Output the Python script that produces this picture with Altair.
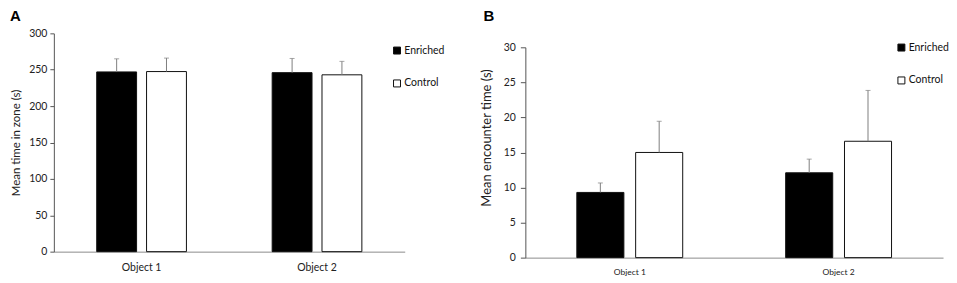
import altair as alt
import pandas as pd

objects = ["Object 1", "Object 2"]
groups = ["Enriched", "Control"]

# order: Object1-Enriched, Object1-Control, Object2-Enriched, Object2-Control
a_mean = [247, 247.5, 246, 243]
a_err = [18, 18.5, 19.5, 18.5]
b_mean = [9.3, 15.0, 12.1, 16.6]
b_err = [1.35, 4.45, 1.95, 7.25]

rows_obj = [objects[0], objects[0], objects[1], objects[1]]
rows_grp = [groups[0], groups[1], groups[0], groups[1]]

df_a = pd.DataFrame({"Object": rows_obj, "Group": rows_grp, "mean": a_mean,
                     "upper": [m + e for m, e in zip(a_mean, a_err)]})
df_b = pd.DataFrame({"Object": rows_obj, "Group": rows_grp, "mean": b_mean,
                     "upper": [m + e for m, e in zip(b_mean, b_err)]})

FONT = "Lato"
ERR = "#808080"


def panel(df, letter, ytitle, ydomain, yvalues, width, height, yrange, po,
          xlabsize, xlabpad, ytitlesize, titlex, titley, tickpad, legx, legy):
    xaxis = alt.Axis(labelAngle=0, ticks=False, tickSize=0, labelPadding=xlabpad,
                     labelFontSize=xlabsize, labelFont=FONT, labelColor="#222",
                     domainColor="#8c8c8c", domainWidth=1)
    x = alt.X("Object:N", sort=objects, title=None,
              scale=alt.Scale(paddingInner=0, paddingOuter=0), axis=xaxis)
    xo = alt.XOffset("Group:N", sort=groups,
                     scale=alt.Scale(paddingInner=0.2, paddingOuter=po))
    yscale = alt.Scale(domain=ydomain, range=yrange, nice=False, zero=True)
    yaxis = alt.Axis(values=yvalues, grid=False, tickSize=tickpad[0],
                     labelPadding=tickpad[1], labelFontSize=10.5,
                     labelOverlap=False, labelFont=FONT, labelColor="#222",
                     domainColor="#555", tickColor="#555",
                     titleFont=FONT, titleFontSize=ytitlesize,
                     titleFontWeight="normal", titleColor="#222",
                     titleX=titlex, titleY=titley)
    bars = alt.Chart(df).mark_bar(stroke="#111", strokeWidth=1).encode(
        x=x, xOffset=xo,
        y=alt.Y("mean:Q", scale=yscale, title=ytitle, axis=yaxis),
        fill=alt.Fill("Group:N", sort=groups,
                      scale=alt.Scale(domain=groups, range=["#000000", "#ffffff"]),
                      legend=alt.Legend(title=None, orient="none", legendX=legx,
                                        legendY=legy, symbolType="square",
                                        symbolSize=49, symbolStrokeColor="#111",
                                        symbolStrokeWidth=1, rowPadding=21,
                                        labelOffset=2, labelFont=FONT,
                                        labelFontSize=10.5, labelColor="#111")))
    rule = alt.Chart(df).mark_rule(color=ERR, strokeWidth=1).encode(
        x=x, xOffset=xo,
        y=alt.Y("mean:Q", scale=yscale, title=ytitle, axis=yaxis), y2="upper:Q")
    cap = alt.Chart(df).mark_tick(color=ERR, thickness=1, size=5).encode(
        x=x, xOffset=xo,
        y=alt.Y("upper:Q", scale=yscale, title=ytitle, axis=yaxis))
    lab = alt.Chart(pd.DataFrame({"panel": [letter]})).mark_text(
        align="left", baseline="top", font="Liberation Sans", fontSize=15,
        fontWeight="bold", color="#000").encode(
        text="panel:N", x=alt.value(-44 if letter == "A" else -42), y=alt.value(-24))
    return alt.layer(bars, rule, cap, lab).properties(width=width, height=height)


pa = panel(df_a, "A", "Mean time in zone (s)", [0, 300], [0, 50, 100, 150, 200, 250, 300],
           352, 219, [219, 0], 0.86, 10.5, 11, 11.5, -32, 109.5, (4, 3), 339, 12)
pb = panel(df_b, "B", "Mean encounter time (s)", [0, 30], [0, 5, 10, 15, 20, 25, 30],
           419, 225, [225, 14], 0.875, 8.5, 10, 13, -31.5, 104.5, (5, 5), 372, 9)

chart = alt.hconcat(pa, pb, spacing=121, bounds="flush").resolve_scale(
    fill="independent", x="independent", y="independent", xOffset="independent"
).resolve_legend(fill="independent").properties(
    padding={"left": 2, "top": 1, "right": 0, "bottom": 0},
    background="white"
).configure_view(strokeWidth=0, stroke="transparent")

chart.save("out.html", embed_options={"renderer": "svg", "actions": False})
